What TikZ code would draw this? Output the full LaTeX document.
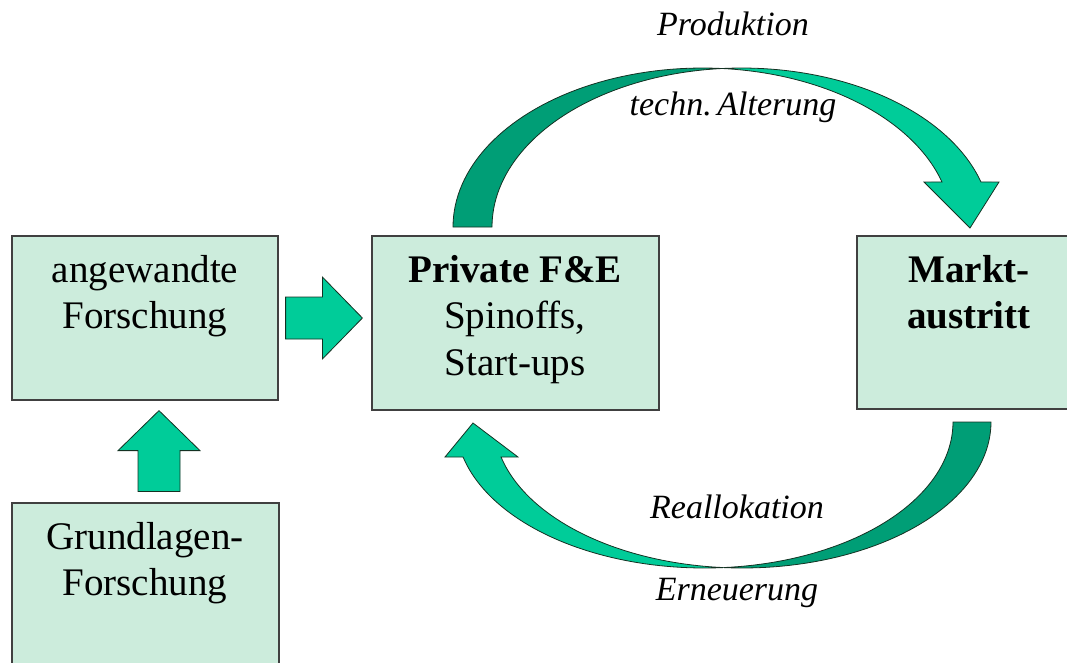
\documentclass[tikz,border=0pt]{standalone}
\usepackage{fontspec}
\setmainfont{Liberation Serif}
\usetikzlibrary{calc}
\definecolor{boxfill}{RGB}{204,236,220}
\definecolor{arrowlight}{RGB}{0,204,153}
\definecolor{arrowdark}{RGB}{0,158,118}
\definecolor{boxline}{RGB}{64,64,64}
\definecolor{arrowline}{RGB}{20,50,35}
\begin{document}
\begin{tikzpicture}[x=0.75pt,y=-0.75pt,
  panel/.style={draw=boxline, line width=0.9pt, fill=boxfill, rectangle, inner sep=0pt},
  boxtext/.style={anchor=base, inner sep=0pt, font=\fontsize{29.3}{35}\selectfont},
  boxbold/.style={anchor=base, inner sep=0pt, font=\fontsize{29.3}{35}\selectfont\bfseries},
  lbl/.style={anchor=base, inner sep=0pt, font=\fontsize{25.5}{30}\selectfont\itshape},
  blockarrow/.style={draw=arrowline, line width=0.6pt, fill=arrowlight, line join=miter},
  lightband/.style={draw=arrowline, line width=0.6pt, fill=arrowlight, line join=miter},
  darkband/.style={draw=arrowline, line width=0.6pt, fill=arrowdark, line join=miter}]
\useasboundingbox (0,0) rectangle (1067,662);
\clip (0,0) rectangle (1067,662);

% boxes
\node[panel, minimum width=199.5pt, minimum height=123pt] (angew) at (145,318) {};
\node[panel, minimum width=200.25pt, minimum height=147.75pt] (grund) at (145.5,601.5) {};
\node[panel, minimum width=215.25pt, minimum height=130.5pt] (pfe) at (515.5,323) {};
\node[panel, minimum width=182.25pt, minimum height=129.75pt] (markt) at (978.5,322.5) {};

% box texts
\node[boxtext] (angew1) at (145,282) {angewandte};
\node[boxtext] (angew2) at (145,328) {Forschung};
\node[boxtext] (grund1) at (145,549) {Grundlagen-};
\node[boxtext] (grund2) at (145,595) {Forschung};
\node[boxbold] (pfe1) at (515,282) {Private F\&E};
\node[boxtext] (pfe2) at (515,328) {Spinoffs,};
\node[boxtext] (pfe3) at (515,375) {Start-ups};
\node[boxbold] (markt1) at (969,282) {Markt-};
\node[boxbold] (markt2) at (969,328) {austritt};

% straight block arrow angewandte -> Private
\coordinate (ra) at ($(angew.east)+(7,0)$);
\coordinate (rb) at ($(pfe.west |- angew.east)+(-9,0)$);
\draw[blockarrow] ($(ra)+(0,-21)$) -- ($(rb)+(-40,-21)$) -- ($(rb)+(-40,-41)$) -- (rb)
  -- ($(rb)+(-40,41)$) -- ($(rb)+(-40,21)$) -- ($(ra)+(0,21)$) -- cycle;

% up block arrow Grundlagen -> angewandte
\coordinate (ua) at ($(grund.north)+(13.5,-11)$);
\coordinate (ub) at ($(angew.south)+(14,10)$);
\draw[blockarrow] ($(ua)+(-21,0)$) -- ($(ua)+(21,0)$) -- ($(ub)+(21,40)$) -- ($(ub)+(41,40)$)
  -- (ub) -- ($(ub)+(-41,40)$) -- ($(ub)+(-21,40)$) -- cycle;

% top curved arrow (Private -> Markt)
\draw[darkband] plot[domain=180:85.5, samples=50] ({702.6+249.6*cos(\x)},{227-159*sin(\x)})
  -- plot[domain=94.5:180, samples=50] ({741.6+249.6*cos(\x)},{227-159*sin(\x)}) -- cycle;
\draw[lightband] plot[domain=94.5:16.45, samples=50] ({741.6+249.6*cos(\x)},{227-159*sin(\x)})
  -- (999,182) -- (970,228) -- (924,182)
  -- plot[domain=16.45:85.5, samples=50] ({702.6+249.6*cos(\x)},{227-159*sin(\x)}) -- cycle;

% bottom curved arrow (Markt -> Private)
\draw[darkband] plot[domain=0:94.4, samples=50] ({742.4+248.6*cos(\x)},{422+146*sin(\x)})
  -- plot[domain=85.6:0, samples=50] ({704.4+248.6*cos(\x)},{422+146*sin(\x)}) -- cycle;
\draw[lightband] plot[domain=85.6:166.1, samples=50] ({704.4+248.6*cos(\x)},{422+146*sin(\x)})
  -- (445,457) -- (473,423) -- (518,457)
  -- plot[domain=166.1:94.4, samples=50] ({742.4+248.6*cos(\x)},{422+146*sin(\x)}) -- cycle;

% labels
\node[lbl] (prod) at (733,35) {Produktion};
\node[lbl] (alter) at (733,115) {techn.\,Alterung};
\node[lbl] (realloc) at (737,518) {Reallokation};
\node[lbl] (erneu) at (737,600) {Erneuerung};
\end{tikzpicture}
\end{document}
